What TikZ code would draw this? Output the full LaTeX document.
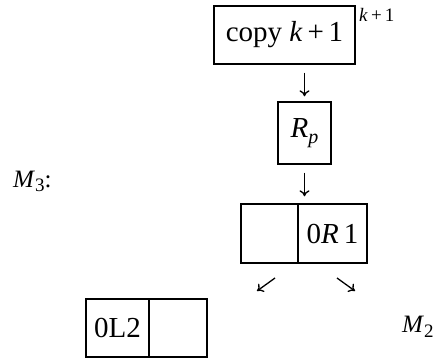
\documentclass[tikz,border=0pt]{standalone}
\usepackage{fontspec}
\setmainfont{Liberation Serif}
\usetikzlibrary{arrows.meta}
\begin{document}
\begin{tikzpicture}[x=1pt,y=-1pt,
  cell/.style={draw,line width=1.4pt,inner sep=0pt,font=\fontsize{29}{33}\selectfont},
  flow/.style={line width=1.3pt,-{To[length=6pt,width=10pt]}},
  lbl/.style={inner sep=0pt,font=\fontsize{25}{28}\selectfont}]
\useasboundingbox (0,0) rectangle (436,358);
% chain of tape boxes
\node[cell,minimum width=141pt,minimum height=58pt] (copy) at (284.5,35) {copy \textit{k}\,+\,1};
\node[lbl,anchor=base west,font=\fontsize{19}{21}\selectfont] (sup) at (359,22) {\textit{k}\,+\,1};
\node[cell,minimum width=53pt,minimum height=62pt] (rp) at (304.5,133) {\textit{R}\raisebox{-6pt}{\fontsize{20}{20}\selectfont\textit{p}}};
\node[cell,minimum width=57pt,minimum height=59pt] (sl) at (269.5,233.5) {};
\node[cell,minimum width=69pt,minimum height=59pt] (sr) at (332.5,233.5) {0\textit{R}\,1};
\node[cell,minimum width=63pt,minimum height=58pt] (bl) at (117.5,328) {0L2};
\node[cell,minimum width=58pt,minimum height=58pt] (br) at (178,328) {};
% machine labels
\node[lbl,anchor=base west] (m3) at (13,187) {\textit{M}\raisebox{-5pt}{\fontsize{19}{19}\selectfont 3}:};
\node[lbl,anchor=base west] (m2) at (402,332) {\textit{M}\raisebox{-5pt}{\fontsize{19}{19}\selectfont 2}};
% arrows
\draw[flow] ([yshift=-8pt]rp.north |- copy.south) -- ([yshift=5pt]rp.north);
\draw[flow] ([yshift=-8pt]rp.south) -- ([yshift=7pt]rp.south |- sl.north);
\coordinate (la) at (275,278);
\coordinate (lb) at (257,291);
\coordinate (ra) at (337,278);
\coordinate (rb) at (355,291);
\draw[flow] (la) -- (lb);
\draw[flow] (ra) -- (rb);
\end{tikzpicture}
\end{document}
